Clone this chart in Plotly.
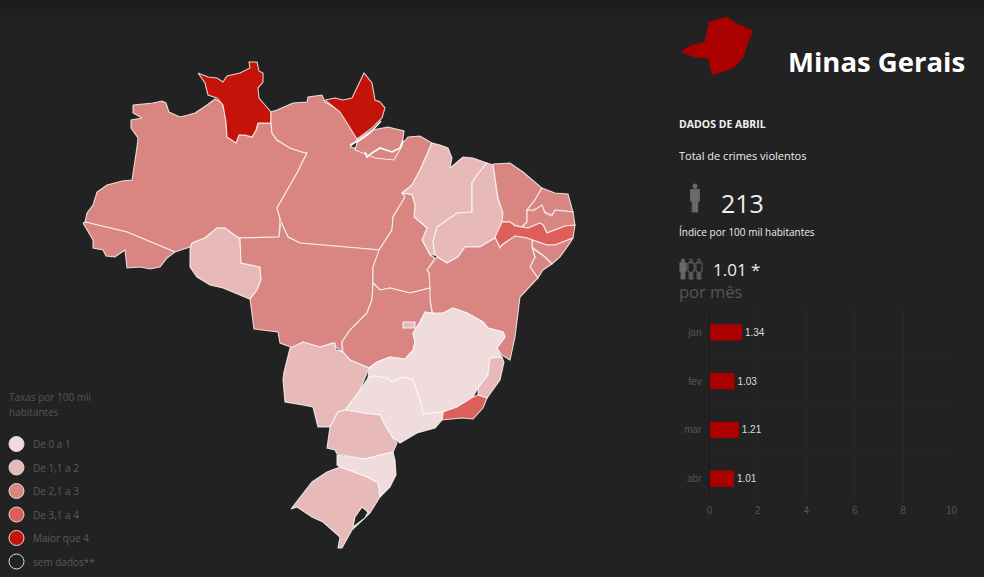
import plotly.graph_objects as go

# ---- data -------------------------------------------------------------
MONTHS = ["jan", "fev", "mar", "abr"]
RATE_BY_MONTH = [1.34, 1.03, 1.21, 1.01]
X_TICKS = [0, 2, 4, 6, 8, 10]

CLASS_LABELS = ["De 0 a 1", "De 1,1 a 2", "De 2,1 a 3", "De 3,1 a 4", "Maior que 4", "sem dados**"]
CLASS_COLORS = ["#f0dcdc", "#e8b9b9", "#d98683", "#dd5f59", "#c4140a", "#222222"]

# State outlines (map units)
RR = [(198,73),(208,77),(217,78),(223,82),(227,76),(240,73),(250,68),(249,62),(257,62),(259,71),(263,73),(263,82),(258,88),(259,98),(265,105),(271,112),(271,123),(258,123),(256,130),(252,137),(245,135),(239,135),(236,143),(227,137),(226,122),(223,105),(217,98),(208,95),(205,83)]
AM = [(133,105),(153,103),(162,101),(166,103),(169,112),(180,117),(188,115),(195,113),(207,105),(215,99),(222,103),(224,110),(226,122),(227,137),(236,143),(239,135),(245,135),(252,137),(256,130),(258,123),(271,123),(272,133),(277,140),(290,148),(302,152),(307,153),(297,173),(277,208),(280,217),(279,237),(240,238),(237,237),(225,228),(217,228),(205,238),(195,242),(190,247),(175,252),(127,232),(85,222),(87,213),(93,205),(97,192),(107,185),(122,181),(132,180),(137,147),(138,138),(131,128),(131,120),(142,118),(133,113)]
AC = [(83,223),(85,222),(127,232),(175,252),(167,258),(160,267),(150,269),(140,267),(127,268),(125,250),(115,257),(106,256),(103,250),(93,248),(93,240),(87,230)]
RO = [(190,249),(192,243),(205,238),(217,228),(225,228),(237,237),(240,238),(241,263),(260,267),(261,280),(257,290),(250,299),(247,298),(223,288),(210,285),(197,277),(190,267)]
MT = [(240,238),(279,237),(281,222),(288,237),(300,243),(380,250),(373,267),(373,283),(372,300),(367,313),(350,330),(342,342),(342,352),(337,348),(333,343),(320,347),(303,342),(293,348),(280,343),(278,332),(254,329),(250,299),(257,290),(261,280),(260,267),(241,263)]
PA = [(271,123),(271,112),(277,110),(293,103),(307,102),(308,97),(322,95),(325,102),(343,112),(355,133),(358,139),(350,147),(365,150),(367,157),(375,150),(385,153),(392,155),(403,143),(408,137),(420,136),(432,143),(420,170),(412,185),(402,193),(405,197),(393,217),(392,230),(379,250),(300,243),(288,237),(281,222),(277,208),(297,173),(307,153),(302,152),(290,148),(277,140),(272,133)]
PA_ISLAND = [(372,130),(388,127),(404,131),(402,146),(394,160),(375,158),(355,150),(358,139)]
DELTA_CHANNEL_A = [(350,145),(360,140),(370,133),(377,125),(381,121)]
DELTA_CHANNEL_B = [(365,152),(367,157),(372,153),(380,148),(392,152),(400,148),(403,140)]
AP = [(325,100),(335,98),(343,100),(352,98),(364,73),(372,83),(375,100),(380,102),(385,108),(382,118),(372,128),(357,139),(347,123),(340,112)]
MA = [(432,143),(440,145),(448,148),(452,158),(450,168),(457,162),(463,157),(473,158),(487,163),(477,175),(472,183),(472,200),(472,212),(457,213),(437,227),(433,242),(435,255),(430,255),(422,240),(427,228),(414,217),(415,205),(412,195),(402,193),(412,185),(420,170)]
PI = [(487,163),(493,165),(498,200),(505,215),(502,223),(495,238),(480,247),(465,247),(458,257),(447,263),(438,257),(435,255),(433,242),(437,227),(457,213),(472,212),(472,200),(472,183),(477,175)]
CE = [(493,164),(510,163),(523,172),(542,188),(535,200),(527,210),(527,222),(522,227),(515,225),(510,222),(502,222),(503,213),(498,198)]
RN = [(542,188),(555,193),(568,194),(573,212),(555,210),(552,215),(545,212),(542,207),(533,210),(527,210),(535,200)]
PB = [(527,210),(533,211),(542,205),(545,213),(552,216),(555,210),(573,212),(575,225),(565,226),(555,230),(547,233),(543,225),(540,223),(528,228),(522,227),(527,222)]
PE = [(502,222),(510,222),(515,226),(522,227),(528,228),(540,223),(543,225),(547,233),(555,230),(565,226),(575,225),(573,238),(563,242),(555,245),(547,245),(532,240),(527,238),(515,236),(502,245),(500,248),(495,237)]
AL = [(573,238),(570,243),(560,257),(552,264),(545,257),(532,247),(532,240),(547,245),(555,245),(563,242)]
SE = [(532,248),(545,257),(552,264),(543,270),(538,278),(530,267),(535,257)]
BA = [(427,270),(437,257),(447,263),(458,257),(465,247),(480,247),(495,238),(500,248),(502,245),(515,236),(527,238),(532,240),(532,248),(535,257),(530,267),(538,278),(520,297),(518,315),(515,337),(510,360),(502,355),(497,348),(505,337),(503,332),(488,328),(483,322),(467,313),(453,308),(443,313),(433,315),(430,300),(428,290),(429,273)]
TO = [(402,193),(405,197),(393,217),(392,230),(379,250),(373,267),(373,283),(380,290),(390,288),(410,293),(430,288),(429,273),(427,270),(435,258),(430,255),(422,240),(427,228),(414,217),(415,205),(412,195)]
GO = [(373,283),(380,290),(390,288),(410,293),(430,288),(430,300),(432,313),(425,312),(420,322),(413,333),(415,342),(413,350),(405,359),(390,357),(377,362),(369,368),(350,360),(343,352),(342,342),(350,330),(367,313),(372,300)]
DF = [(403,322),(415,322),(415,328),(403,328)]
MG = [(369,368),(377,362),(390,357),(405,359),(413,350),(415,342),(413,333),(420,322),(425,312),(432,313),(443,313),(453,308),(467,313),(483,322),(488,328),(503,332),(505,337),(497,348),(502,358),(490,358),(488,375),(478,388),(473,397),(457,407),(443,412),(423,414),(420,400),(413,380),(403,377),(392,382),(387,378),(373,376),(368,378)]
ES = [(490,358),(502,357),(504,362),(500,380),(487,398),(478,395),(478,388),(488,375)]
RJ = [(473,397),(478,395),(487,398),(483,408),(473,419),(462,418),(442,420),(443,412),(457,407)]
SP = [(345,410),(360,390),(368,378),(373,376),(387,378),(392,382),(403,377),(413,380),(420,400),(423,414),(443,412),(442,420),(435,428),(417,433),(400,443),(393,438),(385,425),(380,415),(363,413)]
MS = [(290,348),(303,342),(320,347),(335,343),(336,350),(343,352),(350,360),(369,368),(360,390),(345,410),(338,412),(330,427),(318,427),(313,407),(303,405),(285,402),(283,380),(284,372)]
PR = [(338,412),(345,410),(363,413),(380,415),(385,425),(393,438),(397,443),(393,452),(380,455),(365,459),(337,454),(335,450),(327,448),(330,427)]
SC = [(337,455),(365,459),(380,455),(393,452),(395,460),(396,475),(390,487),(380,497),(378,483),(367,477),(340,467),(337,465)]
RS = [(340,467),(367,477),(378,483),(380,497),(370,513),(360,523),(352,530),(342,548),(338,548),(340,537),(323,522),(312,517),(297,507),(291,509),(303,493),(312,482),(327,472)]
LAGOON = [(362,507),(368,512),(365,518),(353,527),(355,517)]
MG_ICON = [(681,52),(690,46),(705,42),(709,22),(727,17),(735,23),(753,31),(748,42),(743,58),(733,68),(712,75),(708,58),(695,57)]

STATES = [
    (AM, 2), (AC, 2), (RR, 4), (PA, 2), (PA_ISLAND, 2), (AP, 4), (RO, 1), (MT, 2),
    (MA, 1), (PI, 1), (CE, 2), (RN, 2), (PB, 2), (PE, 3), (AL, 2), (SE, 2), (BA, 2),
    (TO, 2), (GO, 2), (DF, 1), (MG, 0), (ES, 1), (RJ, 3), (SP, 0), (MS, 1), (PR, 1),
    (SC, 0), (RS, 1),
]

# ---- figure -------------------------------------------------------------
BG = "#222222"
W, H = 984, 577
fig = go.Figure()


def poly(points, fill, line="rgba(255,255,255,0.8)", width=1.1):
    fig.add_trace(go.Scatter(
        x=[p[0] for p in points] + [points[0][0]],
        y=[p[1] for p in points] + [points[0][1]],
        mode="lines", fill="toself", fillcolor=fill,
        line=dict(color=line, width=width), hoverinfo="skip", showlegend=False,
        xaxis="x", yaxis="y",
    ))


def channel(points):
    fig.add_trace(go.Scatter(
        x=[p[0] for p in points], y=[p[1] for p in points], mode="lines",
        line=dict(color="#ffffff", width=1.6), hoverinfo="skip", showlegend=False,
        xaxis="x", yaxis="y",
    ))


for outline, klass in STATES:
    poly(outline, CLASS_COLORS[klass])
poly(LAGOON, BG)
channel(DELTA_CHANNEL_A)
channel(DELTA_CHANNEL_B)
poly(MG_ICON, "#aa0000", line="#aa0000", width=0.5)

# legend swatches
LEG_X, LEG_Y0, LEG_STEP = 16.5, 444, 23.5
leg_y = [LEG_Y0 + i * LEG_STEP for i in range(len(CLASS_LABELS))]
fig.add_trace(go.Scatter(
    x=[LEG_X] * len(CLASS_LABELS), y=leg_y, mode="markers",
    marker=dict(size=15, color=CLASS_COLORS, line=dict(color="#dddddd", width=1)),
    hoverinfo="skip", showlegend=False, xaxis="x", yaxis="y",
))

# monthly bars
fig.add_trace(go.Bar(
    x=RATE_BY_MONTH, y=MONTHS, orientation="h", xaxis="x2", yaxis="y2",
    marker=dict(color="#aa0000", line=dict(width=0)), width=0.33,
    text=[f"{v:.2f}" for v in RATE_BY_MONTH], textposition="outside", cliponaxis=False,
    textfont=dict(family="Liberation Sans", size=10, color="#dddddd"),
    hoverinfo="skip", showlegend=False,
))

OPEN = "Open Sans"


def label(x, y, text, size, color, bold=False, family=OPEN):
    fig.add_annotation(
        x=x, y=y, xref="x", yref="y", text=f"<b>{text}</b>" if bold else text,
        showarrow=False, xanchor="left", yanchor="middle", align="left",
        font=dict(family=family, size=size, color=color), borderpad=0, borderwidth=0,
    )


label(788, 61, "Minas Gerais", 27.5, "#ffffff", bold=True)
label(679, 124, "DADOS DE ABRIL", 10.5, "#f0f0f0", bold=True)
label(679, 155, "Total de crimes violentos", 11, "#eeeeee")
label(721, 203, "213", 25, "#eeeeee")
label(679, 232, "Índice por 100 mil habitantes", 10, "#eeeeee")
label(713, 269, "1.01 *", 17, "#eeeeee")
label(679, 291, "por mês", 16.5, "#555555")
label(9, 397, "Taxas por 100 mil", 10, "#555555")
label(9, 412, "habitantes", 10, "#555555")
for y, t in zip(leg_y, CLASS_LABELS):
    label(33, y, t, 10, "#5a5a5a")


def person(cx, top, h, filled=True):
    """Standing figure icon, drawn as two layout shapes."""
    u = h / 26.0
    col = "#6a6a6a"
    head = dict(type="circle", xref="x", yref="y", x0=cx - 2 * u, x1=cx + 2 * u,
                y0=top, y1=top + 4 * u, line=dict(color=col, width=1),
                fillcolor=col if filled else "rgba(0,0,0,0)")
    p = [(-4, 5), (4, 5), (4, 16), (2.5, 16), (2.5, 26), (0.4, 26), (0.4, 17),
         (-0.4, 17), (-0.4, 26), (-2.5, 26), (-2.5, 16), (-4, 16)]
    d = "M" + " L".join(f"{cx + a * u:.2f},{top + b * u:.2f}" for a, b in p) + " Z"
    body = dict(type="path", path=d, xref="x", yref="y", line=dict(color=col, width=1),
                fillcolor=col if filled else "rgba(0,0,0,0)")
    return [head, body]


shapes = [dict(type="rect", xref="paper", yref="paper", x0=0, x1=1, y0=1 - i * 5 / H, y1=1 - (i + 1) * 5 / H,
               fillcolor=c, line=dict(width=0), layer="below")
          for i, c in enumerate(["#1b1b1b", "#1d1d1d", "#1f1f1f", "#202020"])]
shapes += person(695, 184, 28)
shapes += person(683, 259, 20) + person(691, 259, 20, False) + person(699, 259, 20, False)

fig.update_layout(
    width=W, height=H, autosize=False,
    margin=dict(l=0, r=0, t=0, b=0, pad=0, autoexpand=False),
    paper_bgcolor=BG, plot_bgcolor="rgba(0,0,0,0)", showlegend=False, shapes=shapes,
    xaxis=dict(range=[0, W], domain=[0, 1], visible=False, fixedrange=True),
    yaxis=dict(range=[H, 0], domain=[0, 1], visible=False, fixedrange=True),
    xaxis2=dict(range=[0, 10], domain=[709.5 / W, 951.5 / W], anchor="y2", tickvals=X_TICKS,
                showgrid=True, gridcolor="#282828", gridwidth=1, zeroline=False, fixedrange=True,
                showline=False, ticks="", tickfont=dict(family="Liberation Sans", size=10, color="#555555")),
    yaxis2=dict(domain=[(H - 503) / H, (H - 308) / H], anchor="x2", type="category",
                categoryorder="array", categoryarray=MONTHS, range=[3.5, -0.5], fixedrange=True,
                tickson="boundaries", showgrid=True, gridcolor="#282828", gridwidth=1,
                showline=True, linecolor="#1b1b1b", ticks="", ticklen=0,
                ticklabelstandoff=5,
                tickfont=dict(family="Liberation Sans", size=10, color="#555555")),
    bargap=0.67,
)
fig.write_html(
    "out.html",
    config={"displayModeBar": False},
    post_script="document.body.style.margin='0';document.body.style.background='#222222';"
                "document.documentElement.style.overflow='hidden';",
)
